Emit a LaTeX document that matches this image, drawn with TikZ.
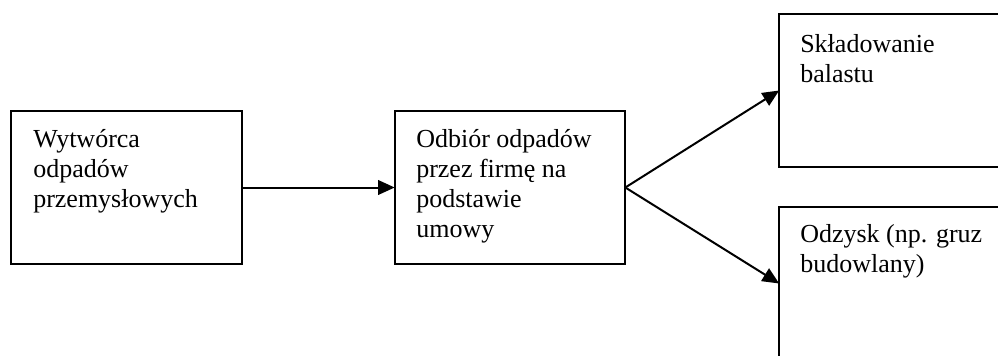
\documentclass[tikz,border=0pt]{standalone}
\usepackage{fontspec}
\setmainfont{Liberation Serif}
\usetikzlibrary{arrows.meta}
\begin{document}
\begin{tikzpicture}[x=0.75pt,y=-0.75pt,
  box/.style={draw, line width=1.5pt, minimum width=173pt, minimum height=114.75pt, inner sep=0pt, outer sep=0pt},
  txt/.style={anchor=north west, inner sep=0pt, align=left,
    font=\fontsize{19.5}{22.5}\selectfont},
  arr/.style={line width=1.5pt, -{Triangle[length=12.5pt,width=11pt]}}]
\clip (0,0) rectangle (998,356);
\fill[white] (0,0) rectangle (998,356);
\node[box] (b1) at (126.5,187.5) {};
\node[box] (b2) at (510,187.5) {};
\node[box] (b3) at (894.5,90.5) {};
\node[box] (b4) at (894.5,283.5) {};
\node[txt] (t1) at (33,126) {\strut Wytwórca\\odpadów\\przemysłowych};
\node[txt] (t2) at (416,126) {\strut Odbiór odpadów\\przez firmę na\\podstawie\\umowy};
\node[txt] (t3) at (800,31) {\strut Składowanie\\balastu};
\node[txt] (t4) at (800,221) {\strut Odzysk (np. gruz\\budowlany)};
\draw[arr] (b1.east) -- (b2.west);
\draw[arr] (b2.east) -- (b3.west);
\draw[arr] (b2.east) -- (b4.west);
\end{tikzpicture}
\end{document}
